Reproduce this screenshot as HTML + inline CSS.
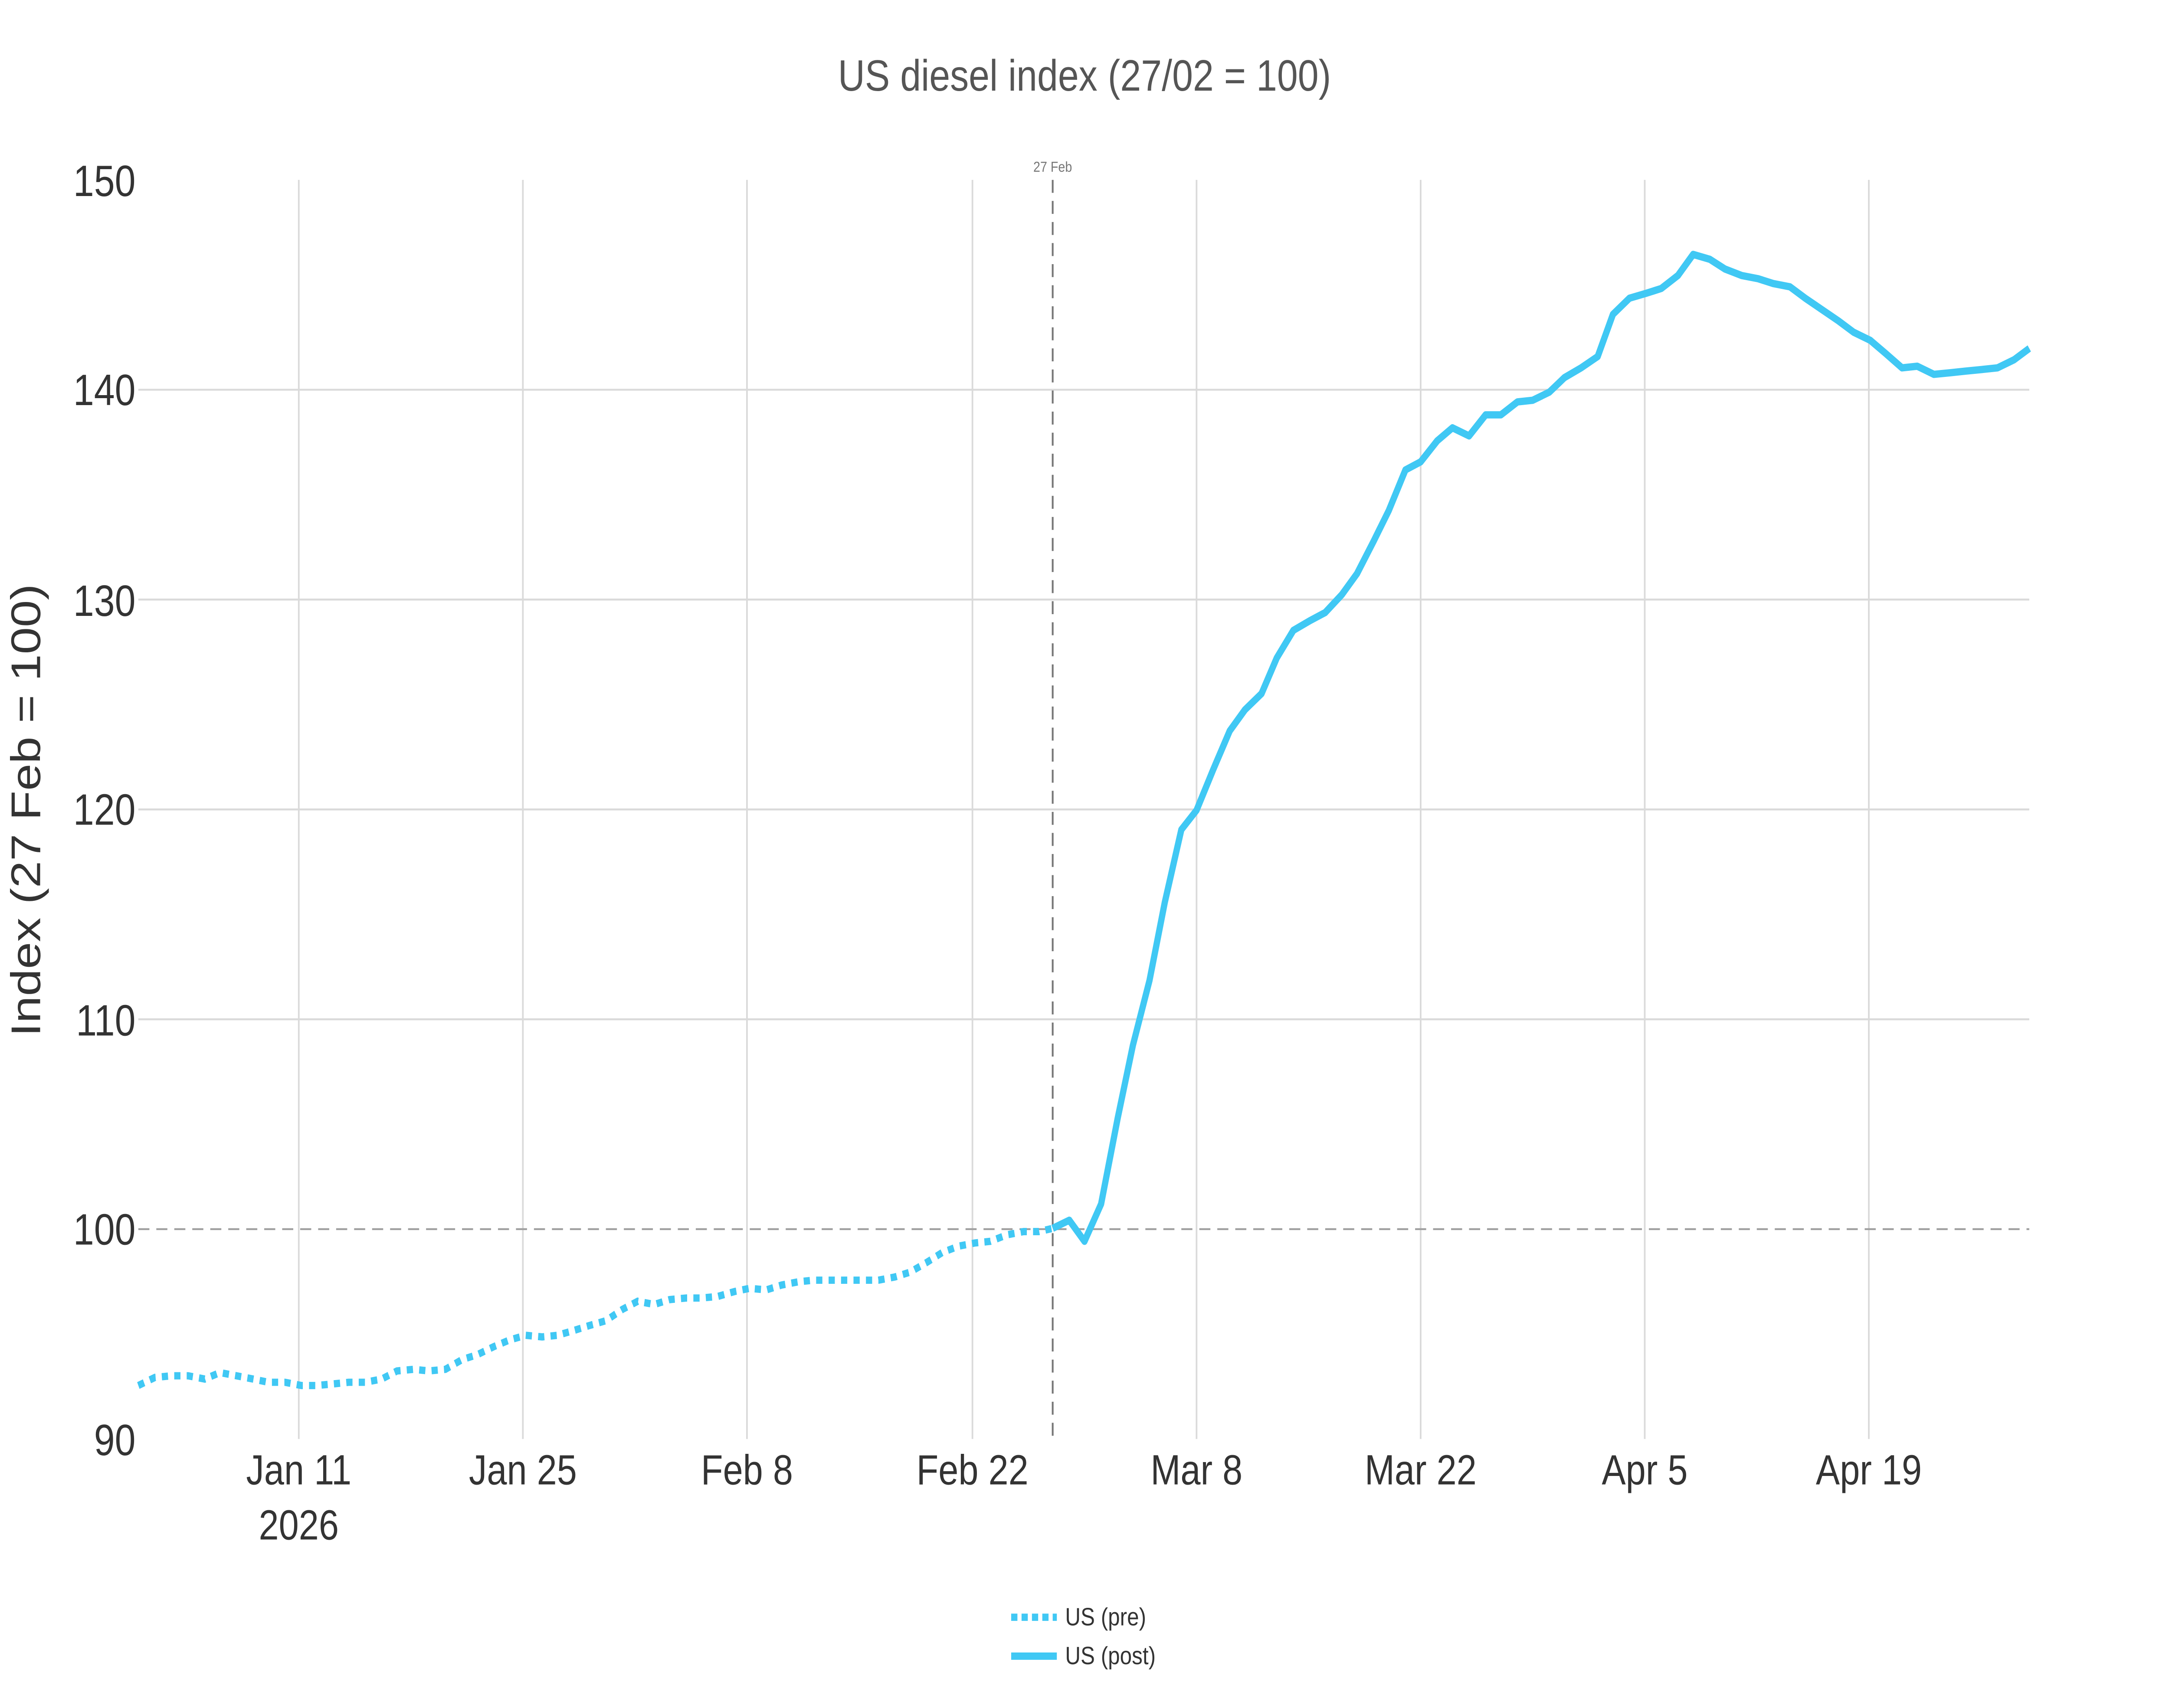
<!DOCTYPE html>
<html><head><meta charset="utf-8"><style>html,body{margin:0;padding:0;background:#fff;width:100%;height:100%;overflow:hidden}svg{display:block;width:100vw;height:100vh}</style></head>
<body>
<svg viewBox="0 0 1568 1054" preserveAspectRatio="none" xmlns="http://www.w3.org/2000/svg" font-family="Liberation Sans, sans-serif">
<rect width="1568" height="1054" fill="#fff"/>
<g stroke="#dadada" stroke-width="1.2">
<line x1="216" y1="111" x2="216" y2="888"/><line x1="378" y1="111" x2="378" y2="888"/><line x1="540" y1="111" x2="540" y2="888"/><line x1="703" y1="111" x2="703" y2="888"/><line x1="865" y1="111" x2="865" y2="888"/><line x1="1027" y1="111" x2="1027" y2="888"/><line x1="1189" y1="111" x2="1189" y2="888"/><line x1="1351" y1="111" x2="1351" y2="888"/>
<line x1="100" y1="240.5" x2="1467" y2="240.5"/><line x1="100" y1="370" x2="1467" y2="370"/><line x1="100" y1="499.5" x2="1467" y2="499.5"/><line x1="100" y1="629" x2="1467" y2="629"/>
</g>
<line x1="100" y1="758.5" x2="1467" y2="758.5" stroke="#a0a0a0" stroke-width="1.2" stroke-dasharray="8,5"/>
<line x1="761" y1="111" x2="761" y2="888" stroke="#777" stroke-width="1.3" stroke-dasharray="8,5"/>
<text x="761" y="106" font-size="9" fill="#777" text-anchor="middle">27 Feb</text>
<g font-size="27" fill="#333" text-anchor="end">
<text x="98" y="121">150</text><text x="98" y="250">140</text><text x="98" y="380">130</text><text x="98" y="509">120</text><text x="98" y="639">110</text><text x="98" y="768">100</text><text x="98" y="898">90</text>
</g>
<g font-size="26" fill="#333" text-anchor="middle">
<text x="216" y="916">Jan 11</text><text x="216" y="950">2026</text><text x="378" y="916">Jan 25</text><text x="540" y="916">Feb 8</text><text x="703" y="916">Feb 22</text><text x="865" y="916">Mar 8</text><text x="1027" y="916">Mar 22</text><text x="1189" y="916">Apr 5</text><text x="1351" y="916">Apr 19</text>
</g>
<text x="784" y="56" font-size="27" fill="#555" text-anchor="middle">US diesel index (27/02 = 100)</text>
<text transform="translate(29,500) rotate(-90)" font-size="30" fill="#333" text-anchor="middle">Index (27 Feb = 100)</text>
<polyline fill="none" stroke="#40c8f4" stroke-width="4.5" stroke-dasharray="4.5,4.5" points="100,855 112,850 124,849 136,849 148,851 159,847 171,849 183,851 194,853 206,853 218,855 229,855 241,854 252,853 264,853 276,851 287,846 299,845 310,846 322,845 334,839 345,836 357,831 368,827 380,824 392,825 403,824 415,821 426,818 438,815 450,808 461,803 473,805 484,802 496,801 507,801 519,800 531,797 542,795 554,796 565,793 577,791 588,790 600,790 612,790 623,790 635,790 647,788 658,785 670,779 681,773 693,769 705,767 716,766 728,762 740,760 751,760 761,758"/>
<polyline fill="none" stroke="#40c8f4" stroke-width="4.5" stroke-linejoin="round" points="761,758 773,753 784,766 796,743 808,690 819,645 831,605 842,557 854,512 865,500 877,475 889,451 900,438 912,428 923,406 935,389 947,383 958,378 970,367 981,354 993,334 1004,315 1016,290 1027,285 1039,272 1050,264 1062,269 1074,256 1085,256 1097,248 1108,247 1120,242 1131,233 1143,227 1155,220 1166,194 1178,184 1190,181 1201,178 1213,170 1224,157 1236,160 1247,166 1259,170 1271,172 1282,175 1294,177 1305,184 1317,191 1329,198 1340,205 1352,210 1363,218 1375,227 1386,226 1398,231 1410,230 1421,229 1433,228 1444,227 1456,222 1467,215"/>
<line x1="731" y1="998" x2="764" y2="998" stroke="#40c8f4" stroke-width="4.5" stroke-dasharray="4.5,3"/>
<line x1="731" y1="1022" x2="764" y2="1022" stroke="#40c8f4" stroke-width="4.5"/>
<g font-size="15.5" fill="#333"><text x="770" y="1003">US (pre)</text><text x="770" y="1027">US (post)</text></g>
</svg>
</body></html>
